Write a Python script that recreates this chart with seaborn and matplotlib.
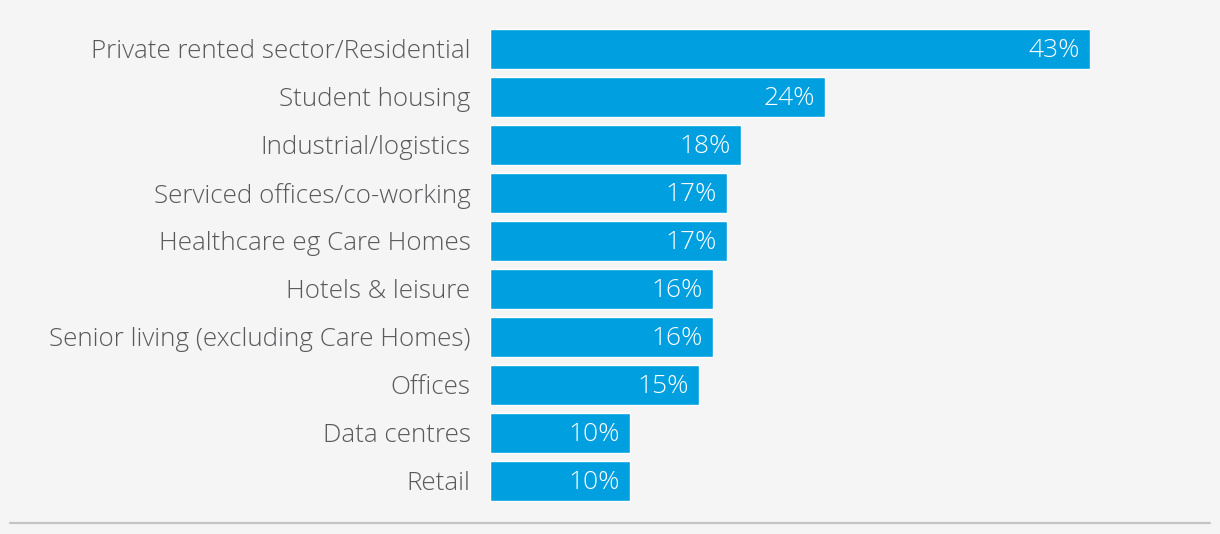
import matplotlib
matplotlib.use("Agg")
import matplotlib.pyplot as plt
from matplotlib.lines import Line2D
import seaborn as sns
import pandas as pd

categories = ["Private rented sector/Residential", "Student housing", "Industrial/logistics",
              "Serviced offices/co-working", "Healthcare eg Care Homes", "Hotels & leisure",
              "Senior living (excluding Care Homes)", "Offices", "Data centres", "Retail"]
values = [43, 24, 18, 17, 17, 16, 16, 15, 10, 10]

df = pd.DataFrame({"sector": categories, "share": values})

sns.set_style("white")
plt.rcParams["font.family"] = ["Open Sans", "DejaVu Sans"]

bg = "#f5f5f5"
fig = plt.figure(figsize=(12.2, 5.34), dpi=100, facecolor=bg)
ax = fig.add_axes([490 / 1220, 29 / 534, 600 / 1220, 480 / 534])
ax.set_facecolor(bg)

sns.barplot(data=df, x="share", y="sector", orient="h", color="#009fdf",
            saturation=1, width=40 / 48, ax=ax)

ax.set_xlim(0, 43)
ax.set_ylim(9.5, -0.5)
for s in ax.spines.values():
    s.set_visible(False)
ax.set_xticks([])
ax.set_xlabel("")
ax.set_ylabel("")
ax.tick_params(axis="y", length=0, pad=14, labelsize=18.7, labelcolor="#58595b")
for lbl in ax.get_yticklabels():
    lbl.set_fontweight("light")

for i, v in enumerate(values):
    ax.annotate(f"{v}%", (v, i), xytext=(-10, -2), textcoords="offset pixels",
                ha="right", va="center", color="white", fontsize=19, fontweight="light")

fig.add_artist(Line2D([10 / 1220, 1210 / 1220], [11 / 534, 11 / 534],
                      color="#c4c4c4", lw=1.6, transform=fig.transFigure))

fig.savefig("out.png", dpi=100, facecolor=bg)
